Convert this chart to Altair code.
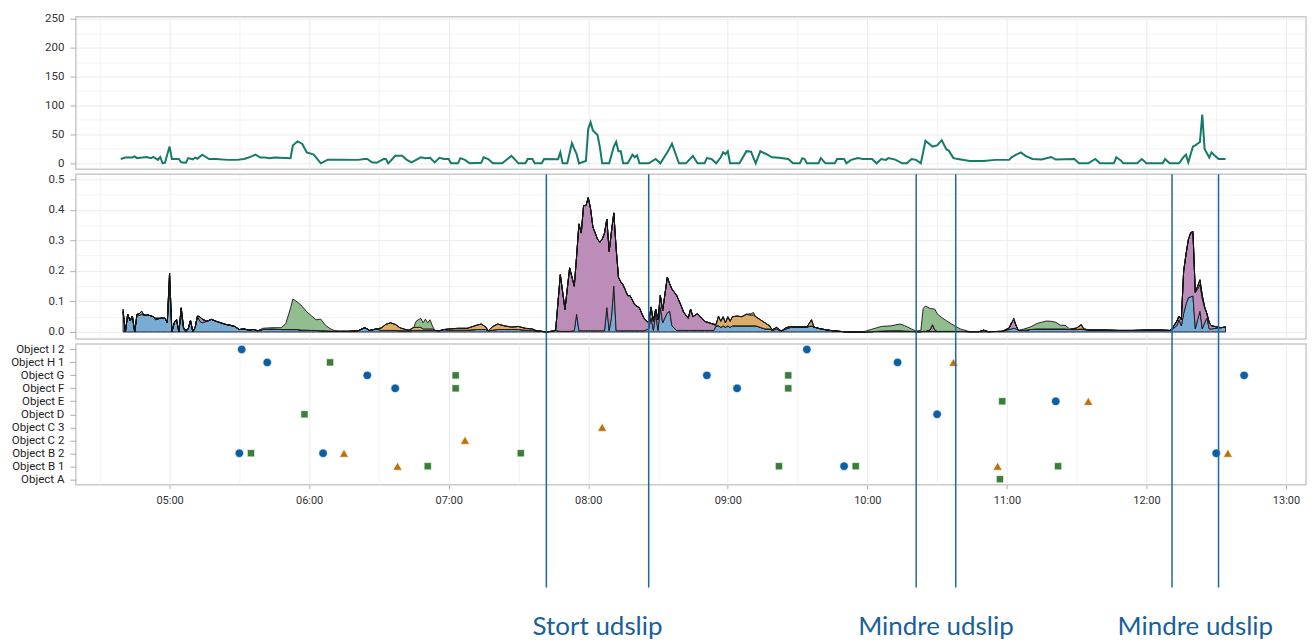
import altair as alt
import pandas as pd

# ---------------- top panel: flow line ----------------
flow_times = [
    "04:39", "04:41", "04:44", "04:45", "04:46", "04:50", "04:52", "04:53", "04:55", "04:56", "04:57", "04:58",
    "05:00", "05:01", "05:04", "05:05", "05:07", "05:08", "05:10", "05:11", "05:12", "05:14", "05:17", "05:20",
    "05:25", "05:29", "05:32", "05:34", "05:37", "05:39", "05:41", "05:43", "05:45", "05:52", "05:53", "05:55",
    "05:57", "05:59", "06:02", "06:05", "06:08", "06:14", "06:21", "06:24", "06:25", "06:27", "06:29", "06:32",
    "06:33", "06:34", "06:35", "06:37", "06:40", "06:42", "06:44", "06:45", "06:48", "06:50", "06:52", "06:54",
    "06:56", "06:58", "07:00", "07:01", "07:04", "07:05", "07:07", "07:09", "07:14", "07:15", "07:17", "07:19",
    "07:23", "07:27", "07:30", "07:33", "07:34", "07:36", "07:37", "07:40", "07:41", "07:47", "07:48", "07:49",
    "07:51", "07:53", "07:54", "07:55", "07:56", "07:59", "08:00", "08:01", "08:02", "08:04", "08:05", "08:06",
    "08:09", "08:11", "08:12", "08:13", "08:14", "08:15", "08:17", "08:19", "08:20", "08:21", "08:22", "08:26",
    "08:29", "08:31", "08:34", "08:36", "08:39", "08:42", "08:45", "08:47", "08:50", "08:51", "08:53", "08:55",
    "08:57", "08:58", "08:59", "09:00", "09:01", "09:05", "09:08", "09:10", "09:12", "09:14", "09:16", "09:17",
    "09:19", "09:22", "09:26", "09:28", "09:31", "09:32", "09:33", "09:34", "09:39", "09:40", "09:42", "09:46",
    "09:47", "09:50", "09:51", "09:53", "09:56", "09:58", "10:02", "10:04", "10:06", "10:08", "10:09", "10:12",
    "10:15", "10:17", "10:19", "10:21", "10:23", "10:25", "10:28", "10:30", "10:32", "10:34", "10:35", "10:37",
    "10:39", "10:44", "10:50", "10:55", "11:01", "11:02", "11:04", "11:06", "11:08", "11:11", "11:15", "11:19",
    "11:21", "11:29", "11:31", "11:35", "11:38", "11:40", "11:46", "11:47", "11:49", "11:50", "11:56", "11:58",
    "12:00", "12:07", "12:08", "12:10", "12:14", "12:16", "12:17", "12:18", "12:20", "12:21", "12:23", "12:24",
    "12:25", "12:27", "12:28", "12:29", "12:31", "12:34",
]
flow_values = [
    7.5, 10, 10, 12, 9, 11, 9, 11, 6, 11, 0, 1,
    29, 7.5, 7.5, 1.7, 1, 9, 7, 10, 8, 15, 7.5, 7.5,
    6, 6, 7.5, 10, 15, 10, 10, 9, 10, 9, 30.7, 38,
    34, 19, 15, 0, 6.4, 6.4, 6, 7.5, 7.5, 1.7, 1, 7.5,
    7.5, 0, 4, 13, 13, 6, 1.7, 4, 10.5, 9, 9.5, 1.7,
    9.5, 7.5, 7.5, 0, 0, 9, 6, 0, 1, 10.5, 7.5, 0,
    0, 13, 0, 0, 7.5, 7.5, 0, 0, 7.5, 7, 19, 0,
    0, 35, 25, 16, 0, 4, 60, 71, 57, 49, 28, 0,
    0, 29, 37, 21, 21, 0, 0, 15, 10.5, 14, 0, 0,
    7.5, 0, 19, 34, 0, 0, 13, 0, 0, 9, 7.5, 0,
    10.5, 19, 16, 21, 0, 0, 21, 20, 0, 21, 17, 15,
    10.5, 9.5, 7.5, 0, 0, 9, 7.5, 0, 0, 9, 0, 0,
    7.5, 7.5, 0, 6, 9, 7.5, 7.5, 0, 7.5, 6, 9, 6.5,
    0, 0, 7.5, 6, 0, 39, 29, 31, 40, 24, 22, 9,
    7.5, 4, 4, 6, 6, 10.5, 15, 19, 13, 7.5, 6.5, 11,
    6.5, 7.5, 0, 0, 7.5, 0, 0, 10.5, 5, 0, 0, 7.5,
    0, 0, 7.5, 0, 0, 11, 15, 1.7, 29, 31, 37, 84.5,
    25, 10, 19, 15, 7.5, 7.5,
]
assert len(flow_times) == len(flow_values)

# ---------------- middle panel: stacked contributions ----------------
mix_times = (
    ["04:40", "04:41", "04:42", "04:43", "04:44", "04:45", "04:46", "04:47", "04:48", "04:49", "04:51", "04:53",
     "04:54", "04:56", "04:58", "04:59"]
    + ["05:00", "05:01", "05:02", "05:03", "05:04", "05:05", "05:06", "05:07", "05:08", "05:09", "05:10", "05:11",
       "05:12", "05:13", "05:14", "05:16", "05:18", "05:20", "05:22", "05:24", "05:26", "05:28", "05:30", "05:32",
       "05:34", "05:36", "05:38"]
    + ["05:40", "05:44", "05:48", "05:50", "05:52", "05:53", "05:55", "05:57", "05:59", "06:01", "06:03", "06:05",
       "06:07", "06:09", "06:11", "06:13", "06:17", "06:21", "06:24", "06:26", "06:29", "06:31", "06:33", "06:35",
       "06:37", "06:39", "06:41", "06:43", "06:45", "06:46", "06:48", "06:49", "06:50", "06:51", "06:52", "06:53",
       "06:54", "06:56", "06:58"]
    + ["07:00", "07:04", "07:08", "07:12", "07:14", "07:16", "07:17", "07:19", "07:21", "07:24", "07:27", "07:30",
       "07:33", "07:36", "07:38", "07:40", "07:42", "07:45", "07:46"]
    + ["07:48", "07:50", "07:52", "07:54", "07:55", "07:56", "07:57", "07:58", "07:59", "08:00", "08:01", "08:02",
       "08:03", "08:04", "08:05", "08:06", "08:07", "08:08", "08:09", "08:10", "08:11", "08:12", "08:13", "08:14",
       "08:15", "08:17", "08:18", "08:20", "08:22", "08:24", "08:26", "08:27", "08:28", "08:29", "08:30", "08:31",
       "08:32", "08:34", "08:35", "08:36", "08:38", "08:40", "08:41", "08:43", "08:44", "08:45", "08:47", "08:50",
       "08:52", "08:54"]
    + ["08:55", "08:56", "08:57", "08:58", "08:59", "09:00", "09:01", "09:02", "09:04", "09:06", "09:08", "09:10",
       "09:11", "09:12", "09:14", "09:16", "09:18", "09:19", "09:21", "09:23", "09:25", "09:27", "09:30", "09:34",
       "09:36", "09:37", "09:40", "09:44", "09:48", "09:52", "09:58"]
    + ["10:02", "10:06", "10:10", "10:14", "10:16", "10:19", "10:21", "10:23", "10:24", "10:25", "10:27", "10:28",
       "10:29", "10:30", "10:32", "10:34", "10:36", "10:38", "10:40", "10:44", "10:48", "10:50", "10:52", "10:58"]
    + ["11:01", "11:02", "11:03", "11:04", "11:05", "11:07", "11:10", "11:13", "11:15", "11:17", "11:19", "11:21",
       "11:23", "11:25", "11:27", "11:30", "11:32", "11:33", "11:36", "11:42", "11:48", "11:54", "12:00", "12:06",
       "12:10"]
    + ["12:11", "12:13", "12:14", "12:15", "12:16", "12:17", "12:18", "12:19", "12:20", "12:21", "12:22", "12:23",
       "12:24", "12:25", "12:26", "12:27", "12:28", "12:30", "12:32", "12:34"]
)
mix_blue = (
    [.066, 0, .058, .036, .052, 0, .058, .055, .058, .055, .055, .050, .040, .045, .045, .030]
    + [.150, 0, .030, .040, 0, .065, .010, 0, .010, .038, 0, .015, .052, .035, .030,
       .035, .041, .035, .030, .025, .022, .018, .008, .010, .006, .008, .004]
    + [.008, .010, .008, .008, .008, .008, .008, .006, .006, .005, .005, .004, .004, .003, .002,
       .002, .002, .004, .014, .005, .010, .005, .005, .005, .005, .004, .004, .004,
       .005, .005, .005, .005, .005, .005, .005, .005, .005, .004, .008]
    + [.006, .006, .006, .008, .008, .008, .004, .006, .008, .008, .008, .008, .006, .005, .003, .002, 0, .003, .005]
    + [.002, .002, .002, .004, .058, .004, .004, .004, .004,
       .004, .004, .004, .004, .004, .004, .004, .004, .080, .004, .050, .150, .004, .004, .004, .004,
       .004, .004, .004, .004, .004,
       .010, .047, .005, .060, .005, .080, .030,
       .063, .068, .020, .005, .005, .005, .005, .005, .005, .005,
       .005, .005, .005]
    + [.020, .020, .015, .020, .015, .020, .015, .020, .020, .020, .020, .020, .020, .020,
       .015, .010, .010, .005, .010, .003, .010, .015, .016, .016, .020, .016, .010, .005, .002, 0, 0]
    + [.001, .003, .004, .004, .003, .002, .001, .001, .002, .002, .002, .002, .002, .002,
       .002, .002, .002, .002, .002, .001, .001, .001, .001, .002]
    + [.008, .010, .012, .010, .005, .005, .008, .010, .010, .010, .010, .010, .010, .010, .008,
       .008, .010, .008, .006, .006, .005, .005, .006, .006, .005]
    + [.008, .020, .040, .020, .060, .090, .112, .115, .118, .010, .040, .068, .010, .030, .045, .010, .010,
       .012, .014, .016]
)
mix_purple = (
    [0] * 16
    + [.043, 0, 0, 0, 0, .014, .005, .005, 0, 0, 0, 0, 0, .015, .012] + [0] * 12
    + [0] * 39
    + [0] * 18 + [.002]
    + [.186, .072, .208, .146, .190, .350, .320, .410, .410,
       .436, .400, .340, .320, .300, .290, .300, .320, .290, .260, .280, .240, .270, .175, .160, .150,
       .115, .115, .085, .075, .040,
       .020, .035, .030, .015, .035, .040, .040,
       .117, .090, .120, .115, .080, .060, .040, .070, .045, .055,
       .030, .025, .020]
    + [0] * 31
    + [0, 0, 0, 0, 0, 0, 0, 0, 0, 0, .005, .022, .005, 0, 0, 0, 0, 0, 0, 0, 0, .005, 0, 0]
    + [.005, .020, .028, .010, 0] + [0] * 20
    + [.002, .015, .012, .020, .140, .164, .190, .210, .205, .120, .100, .088, .100, .050, .015, .020, .010,
       .005, 0, 0]
)
mix_orange = (
    [.004, 0, 0, 0, 0, 0, 0, .005, .010, 0, 0, 0, .005, 0, 0, 0]
    + [0] * 27
    + [0] * 21 + [.008, .020, .025, .020, .010, .005, .002, .010, .010, .010, .005, .005, .005, .005, .005, 0, 0, 0]
    + [.004, .006, .006, .014, .018, .008, 0, .012, .018, .012, .008, .010, .006, .005, 0, 0, 0, 0, 0]
    + [0] * 50
    + [.005, .032, .020, .030, .015, .030, .020, .030, .032, .030, .038, .035, .036, .030,
       .025, .020, .010, .002, .005, 0, .004, .003, 0, 0, .020, 0, 0, 0, 0, 0, 0]
    + [0] * 24
    + [0] * 15 + [.005, .014, .002, 0, 0, 0, 0, 0, 0, 0]
    + [0, 0, 0, 0, 0, 0, 0, 0, .007, 0, .010, .015, .010, .003, 0, 0, 0, 0, 0, 0]
)
mix_green = (
    [.005] + [0] * 15
    + [0] * 27
    + [.004, .004, .006, .020, .070, .100, .090, .078, .060, .048, .035, .038, .018, .008, .002]
    + [0] * 14 + [.020, .030, .020, .032, .020, .030, .010, 0, 0, 0]
    + [0] * 19
    + [0] * 50
    + [0] * 11 + [.005, .008] + [0] * 18
    + [.008, .015, .016, .022, .018, .008, .002, .004, .075, .083, .070, .052, .068, .058,
       .045, .035, .025, .016, .008, 0, 0, 0, 0, 0]
    + [0, 0, .006, 0, 0, .004, .008, .018, .022, .026, .025, .022, .012, .012, .002] + [0] * 10
    + [0] * 20
)
assert len(mix_times) == len(mix_blue) == len(mix_purple) == len(mix_orange) == len(mix_green)

series_names = ["Blå", "Lilla", "Orange", "Grøn"]
series_colors = ["#79acd5", "#bb8db8", "#ddac68", "#92bd8f"]

# ---------------- bottom panel: object events ----------------
object_order = ["Object I 2", "Object H 1", "Object G", "Object F", "Object E", "Object D",
                "Object C 3", "Object C 2", "Object B 2", "Object B 1", "Object A"]
event_objects = [
    "Object I 2", "Object I 2",
    "Object H 1", "Object H 1", "Object H 1", "Object H 1",
    "Object G", "Object G", "Object G", "Object G", "Object G",
    "Object F", "Object F", "Object F", "Object F",
    "Object E", "Object E", "Object E",
    "Object D", "Object D",
    "Object C 3",
    "Object C 2",
    "Object B 2", "Object B 2", "Object B 2", "Object B 2", "Object B 2", "Object B 2", "Object B 2",
    "Object B 1", "Object B 1", "Object B 1", "Object B 1", "Object B 1", "Object B 1", "Object B 1",
    "Object A",
]
event_times = [
    "05:31", "09:34",
    "05:42", "06:09", "10:13", "10:37",
    "06:25", "07:03", "08:51", "09:26", "12:42",
    "06:37", "07:03", "09:04", "09:26",
    "10:58", "11:21", "11:35",
    "05:58", "10:30",
    "08:06",
    "07:07",
    "05:30", "05:35", "06:06", "06:15", "07:31", "12:30", "12:35",
    "06:38", "06:51", "09:22", "09:50", "09:55", "10:56", "11:22",
    "10:57",
]
event_kinds = [
    "cirkel", "cirkel",
    "cirkel", "firkant", "cirkel", "trekant",
    "cirkel", "firkant", "cirkel", "firkant", "cirkel",
    "cirkel", "firkant", "cirkel", "firkant",
    "firkant", "cirkel", "trekant",
    "firkant", "cirkel",
    "trekant",
    "trekant",
    "cirkel", "firkant", "cirkel", "trekant", "firkant", "cirkel", "trekant",
    "trekant", "firkant", "firkant", "cirkel", "firkant", "trekant", "firkant",
    "firkant",
]
assert len(event_objects) == len(event_times) == len(event_kinds)
kind_names = ["cirkel", "firkant", "trekant"]
kind_shapes = ["circle", "square", "triangle-up"]
kind_colors = ["#0b5fa5", "#3b7e3b", "#c0700b"]
kind_sizes = [72, 52, 85]

# ---------------- release annotations ----------------
release_starts = ["07:42", "10:21", "12:11"]
release_ends = ["08:26", "10:38", "12:31"]
release_labels = ["Stort udslip", "Mindre udslip", "Mindre udslip"]


def to_min(s):
    h, m = s.split(":")
    return int(h) * 60 + int(m)


flow_df = pd.DataFrame({"minute": [to_min(t) for t in flow_times], "flow": flow_values})

mix_rows = []
for i, t in enumerate(mix_times):
    for k, (name, vals) in enumerate(zip(series_names, [mix_blue, mix_purple, mix_orange, mix_green])):
        mix_rows.append({"minute": to_min(t), "series": name, "value": vals[i], "order": k})
mix_df = pd.DataFrame(mix_rows)

size_of = dict(zip(kind_names, kind_sizes))
ev_df = pd.DataFrame({
    "minute": [to_min(t) for t in event_times],
    "obj": event_objects,
    "kind": event_kinds,
    "sz": [size_of[k] for k in event_kinds],
})

rule_df = pd.DataFrame({"minute": [to_min(t) for t in release_starts + release_ends]})
label_df = pd.DataFrame({
    "start": [to_min(t) for t in release_starts],
    "end": [to_min(t) for t in release_ends],
    "label": release_labels,
})

# ---------------- shared scales/axes ----------------
W = 1233
x_domain = [259.7, 788.6]
grid_vals = list(range(270, 781, 30))
x_scale = alt.Scale(domain=x_domain, nice=False, zero=False)
x_hidden = alt.Axis(values=grid_vals, labels=False, ticks=False, domain=False, title=None,
                    grid=True, gridColor="#ebebeb",
                    gridWidth={"condition": {"test": "datum.value % 60 == 0", "value": 1}, "value": 0.6})
x_bottom = alt.Axis(values=grid_vals, title=None, domain=False, grid=True, gridColor="#ebebeb",
                    gridWidth={"condition": {"test": "datum.value % 60 == 0", "value": 1}, "value": 0.6},
                    labelExpr="datum.value % 60 == 0 ? pad(floor(datum.value / 60), 2, '0', 'left') + ':00' : ''",
                    tickOpacity={"condition": {"test": "datum.value % 60 == 0", "value": 1}, "value": 0},
                    tickColor="#b0b0b0", tickSize=4, labelPadding=6, labelFontSize=11, labelColor="#333")

y_common = dict(title=None, domain=False, gridColor="#ebebeb", tickColor="#b0b0b0", tickSize=6,
                labelFontSize=11.5, labelColor="#333", labelPadding=6)

top = alt.Chart(flow_df).mark_line(color="#137b67", strokeWidth=2).encode(
    x=alt.X("minute:Q", scale=x_scale, axis=x_hidden),
    y=alt.Y("flow:Q", scale=alt.Scale(domain=[-10.4, 253.5], nice=False, zero=False),
            axis=alt.Axis(values=list(range(0, 251, 25)),
                          labelExpr="datum.value % 50 == 0 ? datum.label : ''",
                          tickOpacity={"condition": {"test": "datum.value % 50 == 0", "value": 1}, "value": 0},
                          gridWidth={"condition": {"test": "datum.value % 50 == 0", "value": 1}, "value": 0.6},
                          **y_common)),
).properties(width=W, height=153)

mid = alt.Chart(mix_df).mark_area(stroke="#151515", strokeWidth=0.9, strokeJoin="round", fillOpacity=1).encode(
    x=alt.X("minute:Q", scale=x_scale, axis=x_hidden),
    y=alt.Y("value:Q", stack="zero", scale=alt.Scale(domain=[-0.0229, 0.5163], nice=False, zero=False),
            axis=alt.Axis(values=[round(0.05 * i, 2) for i in range(11)],
                          labelExpr="(round(datum.value * 100) % 10 == 0) ? format(datum.value, '.1f') : ''",
                          tickOpacity={"condition": {"test": "round(datum.value * 100) % 10 == 0", "value": 1}, "value": 0},
                          gridWidth={"condition": {"test": "round(datum.value * 100) % 10 == 0", "value": 1}, "value": 0.6},
                          **y_common)),
    color=alt.Color("series:N", scale=alt.Scale(domain=series_names, range=series_colors), legend=None),
    order=alt.Order("order:Q", sort="ascending"),
).properties(width=W, height=165)

points = alt.Chart(ev_df).mark_point(filled=True, opacity=1, stroke="white", strokeWidth=0.6).encode(
    x=alt.X("minute:Q", scale=x_scale, axis=x_bottom),
    y=alt.Y("obj:N", sort=object_order, scale=alt.Scale(type="point", padding=0.42),
            axis=alt.Axis(title=None, domain=False, gridColor="#dadada", gridWidth=1.3, tickColor="#b0b0b0",
                          tickSize=6, labelFontSize=11.5, labelColor="#222", labelPadding=6)),
    shape=alt.Shape("kind:N", scale=alt.Scale(domain=kind_names, range=kind_shapes), legend=None),
    color=alt.Color("kind:N", scale=alt.Scale(domain=kind_names, range=kind_colors), legend=None),
    size=alt.Size("sz:Q", scale=None, legend=None),
)

rules = alt.Chart(rule_df).mark_rule(color="#1f68a3", strokeWidth=1.5).encode(
    x=alt.X("minute:Q", scale=x_scale),
    y=alt.value(-170),
    y2=alt.value(244),
)

labels = alt.Chart(label_df).transform_calculate(
    mid="(datum.start + datum.end) / 2"
).mark_text(font="Lato", fontSize=26, fontWeight=400, color="#17609a", align="center",
            baseline="alphabetic").encode(
    x=alt.X("mid:Q", scale=x_scale),
    y=alt.value(292),
    text="label:N",
)

bottom = alt.layer(points, rules, labels).properties(width=W, height=141)

chart = alt.vconcat(top, mid, bottom, spacing=5, bounds="flush").resolve_scale(
    color="independent", shape="independent", size="independent"
).properties(
    padding={"left": 1, "top": 3, "right": 0, "bottom": 0},
    background="white",
).configure_view(
    stroke="#c9c9c9", strokeWidth=1.5
).configure_axis(
    labelFont="Roboto"
)

chart.save("out.html", embed_options={"renderer": "svg", "actions": False})
